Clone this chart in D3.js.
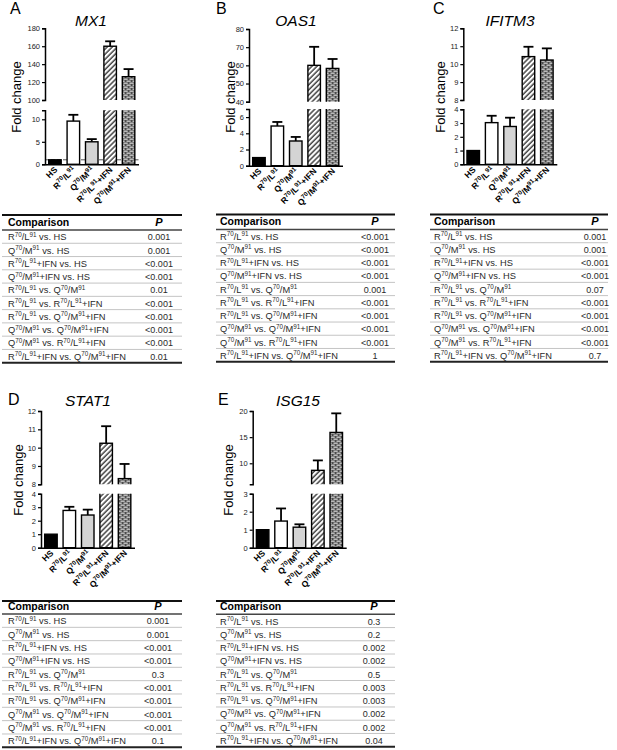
<!DOCTYPE html>
<html><head><meta charset="utf-8">
<script src="https://cdn.jsdelivr.net/npm/d3@7"></script>
<style>
html,body{margin:0;padding:0;background:#fff;}
svg{display:block;font-family:"Liberation Sans",Arial,Helvetica,sans-serif;}
</style></head><body>
<svg id="fig" width="617" height="750"></svg>
<script>
// ---------------- DATA ----------------
const categories = ["HS", "R^70/L^91", "Q^70/M^91", "R^70/L^91+IFN", "Q^70/M^91+IFN"];
const genes = ["MX1", "OAS1", "IFITM3", "STAT1", "ISG15"];
const panelLetters = ["A", "B", "C", "D", "E"];

const mx1Mean = [1, 9.6, 5.0, 160, 126];
const mx1Err  = [0, 1.4, 0.6, 5.5, 8.5];
const oas1Mean = [1, 4.9, 3.05, 60, 58.3];
const oas1Err  = [0, 0.5, 0.5, 10.2, 5.2];
const ifitm3Mean = [1, 3.03, 2.75, 10.42, 10.23];
const ifitm3Err  = [0, 0.5, 0.64, 0.55, 0.65];
const stat1Mean = [1, 2.76, 2.42, 10.24, 8.31];
const stat1Err  = [0, 0.27, 0.4, 0.93, 0.8];
const isg15Mean = [1, 1.48, 1.14, 8.65, 15.9];
const isg15Err  = [0, 0.7, 0.16, 1.9, 3.65];

// broken y axis: lower and upper segment domains and their tick labels
const lowerDomains = [[0, 12], [0, 7], [0, 4], [0, 4], [0, 3]];
const upperDomains = [[100, 180], [40, 80], [8, 12], [8, 12], [6, 20]];
const lowerTicks = [[0, 5, 10], [0, 2, 4, 6], [0, 1, 2, 3, 4], [0, 1, 2, 3, 4], [0, 1, 2, 3]];
const upperTicks = [[100, 120, 140, 160, 180], [40, 50, 60, 70, 80], [8, 9, 10, 11, 12], [8, 9, 10, 11, 12], [10, 15, 20]];
const guideLine = [1, null, null, null, null];

const comparisons = [
  "R^70/L^91 vs. HS",
  "Q^70/M^91 vs. HS",
  "R^70/L^91+IFN vs. HS",
  "Q^70/M^91+IFN vs. HS",
  "R^70/L^91 vs. Q^70/M^91",
  "R^70/L^91 vs. R^70/L^91+IFN",
  "R^70/L^91 vs. Q^70/M^91+IFN",
  "Q^70/M^91 vs. Q^70/M^91+IFN",
  "Q^70/M^91 vs. R^70/L^91+IFN",
  "R^70/L^91+IFN vs. Q^70/M^91+IFN"
];
const mx1P    = ["0.001", "0.001", "<0.001", "<0.001", "0.01", "<0.001", "<0.001", "<0.001", "<0.001", "0.01"];
const oas1P   = ["<0.001", "<0.001", "<0.001", "<0.001", "0.001", "<0.001", "<0.001", "<0.001", "<0.001", "1"];
const ifitm3P = ["0.001", "0.001", "<0.001", "<0.001", "0.07", "<0.001", "<0.001", "<0.001", "<0.001", "0.7"];
const stat1P  = ["0.001", "0.001", "<0.001", "<0.001", "0.3", "<0.001", "<0.001", "<0.001", "<0.001", "0.1"];
const isg15P  = ["0.3", "0.2", "0.002", "0.002", "0.5", "0.003", "0.003", "0.002", "0.002", "0.04"];

const means = [mx1Mean, oas1Mean, ifitm3Mean, stat1Mean, isg15Mean];
const errs = [mx1Err, oas1Err, ifitm3Err, stat1Err, isg15Err];
const pValues = [mx1P, oas1P, ifitm3P, stat1P, isg15P];

// ---------------- LAYOUT ----------------
const panelLayout = [
  {axisX: 45,    yBase: 164.3, lowTop: 110.3, upBot: 100,   upTop: 28.3, titleX: 91,  titleY: 26,  letterX: 10,  letterY: 14,  labX: 16,  labY: 97},
  {axisX: 249,   yBase: 165.7, lowTop: 109,   upBot: 101.7, upTop: 29,   titleX: 296, titleY: 26,  letterX: 216, letterY: 14,  labX: 230, labY: 97},
  {axisX: 463.3, yBase: 164.3, lowTop: 109.3, upBot: 100,   upTop: 28.3, titleX: 510, titleY: 26,  letterX: 433, letterY: 14,  labX: 440, labY: 97},
  {axisX: 41,    yBase: 547.7, lowTop: 493.7, upBot: 484.3, upTop: 411,  titleX: 88,  titleY: 406, letterX: 8,   letterY: 405, labX: 18,  labY: 480},
  {axisX: 252.7, yBase: 547.7, lowTop: 493.7, upBot: 484.2, upTop: 411,  titleX: 298, titleY: 406, letterX: 218, letterY: 405, labX: 228, labY: 480}
];
const tableLayout = [
  {x0: 2,   x1: 182, yTop: 215,   yHead: 230,   yBot: 362.7, textX: 8,   pX: 159},
  {x0: 216, x1: 395, yTop: 214.5, yHead: 229.5, yBot: 361.7, textX: 220, pX: 375},
  {x0: 430, x1: 608, yTop: 214.5, yHead: 229.5, yBot: 361.7, textX: 434, pX: 595},
  {x0: 2,   x1: 182, yTop: 601,   yHead: 614,   yBot: 747.3, textX: 8,   pX: 158},
  {x0: 216, x1: 395, yTop: 601,   yHead: 614.3, yBot: 746.7, textX: 220, pX: 374}
];

const svg = d3.select("#fig");
const defs = svg.append("defs");

// hatch pattern
const hatch = defs.append("pattern").attr("id", "hatch")
  .attr("patternUnits", "userSpaceOnUse").attr("width", 3.6).attr("height", 3.6)
  .attr("patternTransform", "rotate(45)");
hatch.append("rect").attr("width", 3.6).attr("height", 3.6).attr("fill", "#fff");
hatch.append("line").attr("x1", 1).attr("x2", 1).attr("y1", 0).attr("y2", 3.6)
  .attr("stroke", "#000").attr("stroke-width", 1.1);

// brick pattern
const brick = defs.append("pattern").attr("id", "brick")
  .attr("patternUnits", "userSpaceOnUse").attr("width", 6).attr("height", 4);
brick.append("rect").attr("width", 6).attr("height", 4).attr("fill", "#4a4a4a");
[[0.5, 0.6], [3.5, 2.6], [-2.5, 2.6]].forEach(([bx, by]) => {
  brick.append("rect").attr("x", bx).attr("y", by).attr("width", 4.2).attr("height", 1.1).attr("fill", "#e8e8e8");
});

const fills = ["#000", "#fff", "#d4d4d4", "url(#hatch)", "url(#brick)"];

function richText(sel, str, size, supSize) {
  const parts = str.split(/\^(\d+)/);
  let raised = false;
  parts.forEach((p, k) => {
    if (p === "") { return; }
    if (k % 2 === 1) {
      sel.append("tspan").attr("font-size", supSize).attr("dy", raised ? 0 : -size * 0.38).text(p);
      raised = true;
    } else {
      sel.append("tspan").attr("font-size", size).attr("dy", raised ? size * 0.38 : 0).text(p);
      raised = false;
    }
  });
}

function drawPanel(i) {
  const L = panelLayout[i];
  const g = svg.append("g");
  const x = d3.scaleBand().domain(categories)
    .range([L.axisX, L.axisX + 93.5]).paddingInner(0.32).paddingOuter(0.2);
  const yLow = d3.scaleLinear().domain(lowerDomains[i]).range([L.yBase, L.lowTop]);
  const yUp = d3.scaleLinear().domain(upperDomains[i]).range([L.upBot, L.upTop]);
  const lowMax = lowerDomains[i][1], upMin = upperDomains[i][0];

  const cLow = defs.append("clipPath").attr("id", "clow" + i);
  cLow.append("rect").attr("x", L.axisX).attr("y", L.lowTop).attr("width", 110).attr("height", L.yBase - L.lowTop + 2);
  const cUp = defs.append("clipPath").attr("id", "cup" + i);
  cUp.append("rect").attr("x", L.axisX).attr("y", L.upTop - 30).attr("width", 110).attr("height", L.upBot - L.upTop + 30);

  // panel letter, title, y label
  g.append("text").attr("x", L.letterX).attr("y", L.letterY).attr("font-size", 16).text(panelLetters[i]);
  g.append("text").attr("x", L.titleX).attr("y", L.titleY).attr("font-size", 15.5)
    .attr("font-style", "italic").attr("text-anchor", "middle").text(genes[i]);
  g.append("text").attr("transform", `translate(${L.labX},${L.labY}) rotate(-90)`)
    .attr("dy", "0.35em").attr("text-anchor", "middle").attr("font-size", 13).text("Fold change");

  const data = categories.map((c, k) => ({c, v: means[i][k], e: errs[i][k], f: fills[k]}));

  // guide line
  if (guideLine[i] !== null) {
    g.append("line").attr("x1", L.axisX).attr("x2", L.axisX + 93.5)
      .attr("y1", yLow(guideLine[i])).attr("y2", yLow(guideLine[i]))
      .attr("stroke", "#555").attr("stroke-width", 1).attr("stroke-dasharray", "4,2");
  }

  // lower segment bars
  g.append("g").attr("clip-path", `url(#clow${i})`).selectAll("rect").data(data).join("rect")
    .attr("x", d => x(d.c)).attr("width", x.bandwidth())
    .attr("y", d => d.v > lowMax ? L.lowTop - 6 : yLow(d.v))
    .attr("height", d => L.yBase - (d.v > lowMax ? L.lowTop - 6 : yLow(d.v)))
    .attr("fill", d => d.f).attr("stroke", "#000").attr("stroke-width", 1.4);

  // upper segment bars
  g.append("g").attr("clip-path", `url(#cup${i})`).selectAll("rect").data(data.filter(d => d.v > upMin)).join("rect")
    .attr("x", d => x(d.c)).attr("width", x.bandwidth())
    .attr("y", d => yUp(d.v))
    .attr("height", d => L.upBot + 6 - yUp(d.v))
    .attr("fill", d => d.f).attr("stroke", "#000").attr("stroke-width", 1.4);

  // error bars (upper half)
  const eb = g.append("g").attr("stroke", "#000").attr("stroke-width", 1.8);
  data.filter(d => d.e > 0).forEach(d => {
    const ys = d.v > upMin ? yUp : yLow;
    const cx = x(d.c) + x.bandwidth() / 2;
    eb.append("line").attr("x1", cx).attr("x2", cx).attr("y1", ys(d.v)).attr("y2", ys(d.v + d.e));
    eb.append("line").attr("x1", cx - 5).attr("x2", cx + 5).attr("y1", ys(d.v + d.e)).attr("y2", ys(d.v + d.e));
  });

  // y axes
  [[yLow, lowerTicks[i]], [yUp, upperTicks[i]]].forEach(([sc, tv]) => {
    const ax = g.append("g").attr("transform", `translate(${L.axisX},0)`)
      .call(d3.axisLeft(sc).tickValues(tv).tickSize(3).tickSizeOuter(3).tickPadding(2).tickFormat(d3.format("d")));
    ax.attr("font-family", null).attr("font-size", null);
    ax.select(".domain").attr("stroke-width", 1.5);
    ax.selectAll(".tick line").attr("stroke-width", 1.2);
    ax.selectAll(".tick text").attr("font-size", 7.5).attr("fill", "#222");
  });

  // x axis
  const xa = g.append("g").attr("transform", `translate(0,${L.yBase})`)
    .call(d3.axisBottom(x).tickSize(0).tickSizeOuter(0).tickFormat(""));
  xa.select(".domain").attr("stroke-width", 1.5);

  // rotated category labels
  data.forEach(d => {
    const cx = x(d.c) + x.bandwidth() / 2;
    const t = g.append("text").attr("transform", `translate(${cx + 3},${L.yBase + 6}) rotate(-45)`)
      .attr("text-anchor", "end").attr("font-weight", "bold");
    richText(t, d.c, 8.5, 6.3);
  });
}

function drawTable(i) {
  const T = tableLayout[i];
  const g = svg.append("g");
  const y = d3.scaleLinear().domain([0, comparisons.length]).range([T.yHead, T.yBot]);
  // separators
  d3.range(1, comparisons.length).forEach(k => {
    g.append("line").attr("x1", T.x0).attr("x2", T.x1).attr("y1", y(k)).attr("y2", y(k))
      .attr("stroke", "#bdbdbd").attr("stroke-width", 0.9);
  });
  g.append("line").attr("x1", T.x0).attr("x2", T.x1).attr("y1", T.yTop).attr("y2", T.yTop)
    .attr("stroke", "#111").attr("stroke-width", 2);
  g.append("line").attr("x1", T.x0).attr("x2", T.x1).attr("y1", T.yHead).attr("y2", T.yHead)
    .attr("stroke", "#444").attr("stroke-width", 1.6);
  g.append("line").attr("x1", T.x0).attr("x2", T.x1).attr("y1", T.yBot).attr("y2", T.yBot)
    .attr("stroke", "#222").attr("stroke-width", 2);
  g.append("text").attr("x", T.textX).attr("y", T.yHead - 4.3).attr("font-size", 10.5)
    .attr("font-weight", "bold").text("Comparison");
  g.append("text").attr("x", T.pX).attr("y", T.yHead - 4.3).attr("font-size", 11)
    .attr("font-weight", "bold").attr("font-style", "italic").attr("text-anchor", "middle").text("P");
  comparisons.forEach((c, k) => {
    const t = g.append("text").attr("x", T.textX).attr("y", y(k) + 10.3).attr("fill", "#2a2a2a");
    richText(t, c, 9.3, 6.3);
    g.append("text").attr("x", T.pX).attr("y", y(k) + 10.3).attr("fill", "#2a2a2a")
      .attr("font-size", 9).attr("text-anchor", "middle").text(pValues[i][k]);
  });
}

genes.forEach((gname, i) => { drawPanel(i); drawTable(i); });
</script>
</body></html>
